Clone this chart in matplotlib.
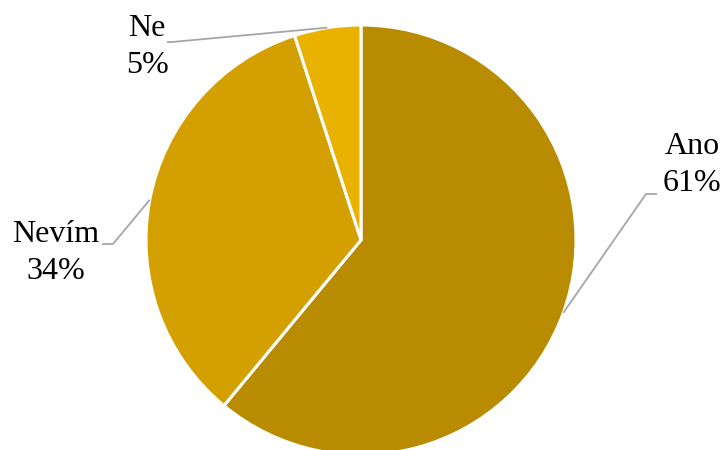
import numpy as np
from matplotlib import pyplot as plt

labels = ['Ano', 'Nevím', 'Ne']
values = [61, 34, 5]
colors = ['#B88B00', '#D4A000', '#E9B200']

# label placement (pixels, y measured from the bottom)
label_pos = [(692, 285), (56, 197), (147, 403)]
elbows = [[(657, 256), (646, 256)],
          [(102, 206), (113, 206)],
          [(167, 408), (172, 408)]]

plt.rcParams['font.family'] = ['Liberation Serif', 'DejaVu Serif']

fig = plt.figure(figsize=(7.26, 4.5), dpi=100)
ax = fig.add_axes([0, 0, 1, 1])

center = (361, 210)
radius = 215
wedges, _ = ax.pie(values, colors=colors, startangle=90, counterclock=False,
                   center=center, radius=radius, frame=True,
                   wedgeprops=dict(edgecolor='white', linewidth=2.2))
ax.set_xlim(0, 726)
ax.set_ylim(0, 450)
ax.set_aspect('equal')
ax.axis('off')

for w, lab, v, pos, el in zip(wedges, labels, values, label_pos, elbows):
    mid = np.deg2rad((w.theta1 + w.theta2) / 2)
    ax_x = center[0] + radius * np.cos(mid)
    ax_y = center[1] + radius * np.sin(mid)
    xs = [el[0][0], el[1][0], ax_x]
    ys = [el[0][1], el[1][1], ax_y]
    ax.plot(xs, ys, color='#A6A6A6', linewidth=1.3, solid_capstyle='butt')
    ax.text(pos[0], pos[1], '%s\n%d%%' % (lab, v), ha='center', va='center',
            fontsize=23, linespacing=1.35, color='black')

fig.savefig('out.png', dpi=100)
